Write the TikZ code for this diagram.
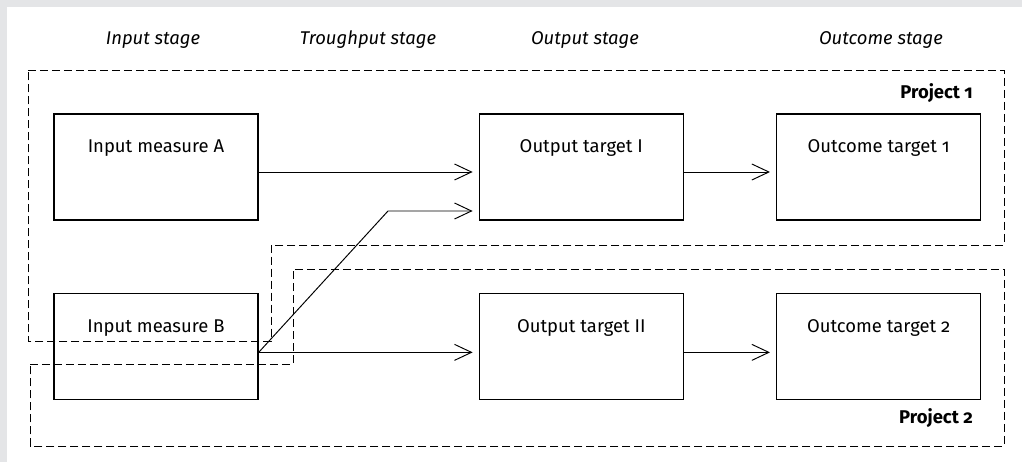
\documentclass[tikz,border=0pt]{standalone}
\usepackage{fontspec}
\setmainfont{Fira Sans}[Numbers=OldStyle]
\usepackage{tikz}
\usetikzlibrary{positioning}
\usetikzlibrary{arrows.meta}
\definecolor{pagegray}{RGB}{228,229,231}

\begin{document}
\begin{tikzpicture}[x=0.02cm,y=-0.02cm,
		stage box/.style={rectangle,draw,line width=0.8pt,minimum width=4.08cm,
			inner sep=0pt,text height=0.78cm,text depth=1.34cm,
			font=\fontsize{10.5}{12}\selectfont},
		stage label/.style={font=\itshape\fontsize{10.5}{12}\selectfont},
		project label/.style={anchor=east,font=\bfseries\fontsize{10.5}{12}\selectfont},
		project line/.style={line width=0.55pt,dash pattern=on 0.16cm off 0.08cm},
		link/.style={line width=0.55pt,-{Straight Barb[length=0.34cm,width=0.32cm]},
			shorten >=0.12cm}]
	
	% page
	\fill[pagegray] (0,0) rectangle (1022,462);
	\fill[white] (7,7) rectangle (1022,462);
	
	% stages
	\node[stage label] (sIn) at (153,40) {Input stage};
	\node[stage label] (sThr) at (368,40) {Troughput stage};
	\node[stage label] (sOut) at (585,40) {Output stage};
	\node[stage label] (sOc) at (881,40) {Outcome stage};
	
	% projects
	\draw[project line] (28,70) -- (1004,70) -- (1004,245) -- (271,245)
		-- (271,341) -- (28,341) -- cycle;
	\draw[project line] (30,364) -- (293,364) -- (293,269) -- (1004,269)
		-- (1004,446) -- (30,446) -- cycle;
	\node[project label] (p1) at (979,93) {Project 1};
	\node[project label] (p2) at (979,418) {Project 2};
	
	\node[stage box] (inA) at (156,167) {Input measure A};
	\node[stage box] (outI) [right=4.4cm of inA] {Output target I};
	\node[stage box] (ocI) [right=1.84cm of outI] {Outcome target 1};
	\node[stage box] (inB) [below=1.44cm of inA] {Input measure B};
	\node[stage box] (outII) [right=4.4cm of inB] {Output target II};
	\node[stage box] (ocII) [right=1.84cm of outII] {Outcome target 2};
	
	\coordinate (bend) at (388,211);
	\draw[link] ([yshift=-0.1cm]inA.east) -- ([yshift=-0.1cm]outI.west);
	\draw[link] ([yshift=-0.1cm]outI.east) -- ([yshift=-0.1cm]ocI.west);
	\draw[link] ([yshift=-0.12cm]inB.east) -- ([yshift=-0.12cm]outII.west);
	\draw[link] ([yshift=-0.12cm]outII.east) -- ([yshift=-0.12cm]ocII.west);
	\draw[link] ([yshift=-0.12cm]inB.east) -- (bend) -- (outI.west |- bend);
\end{tikzpicture}
\end{document}
